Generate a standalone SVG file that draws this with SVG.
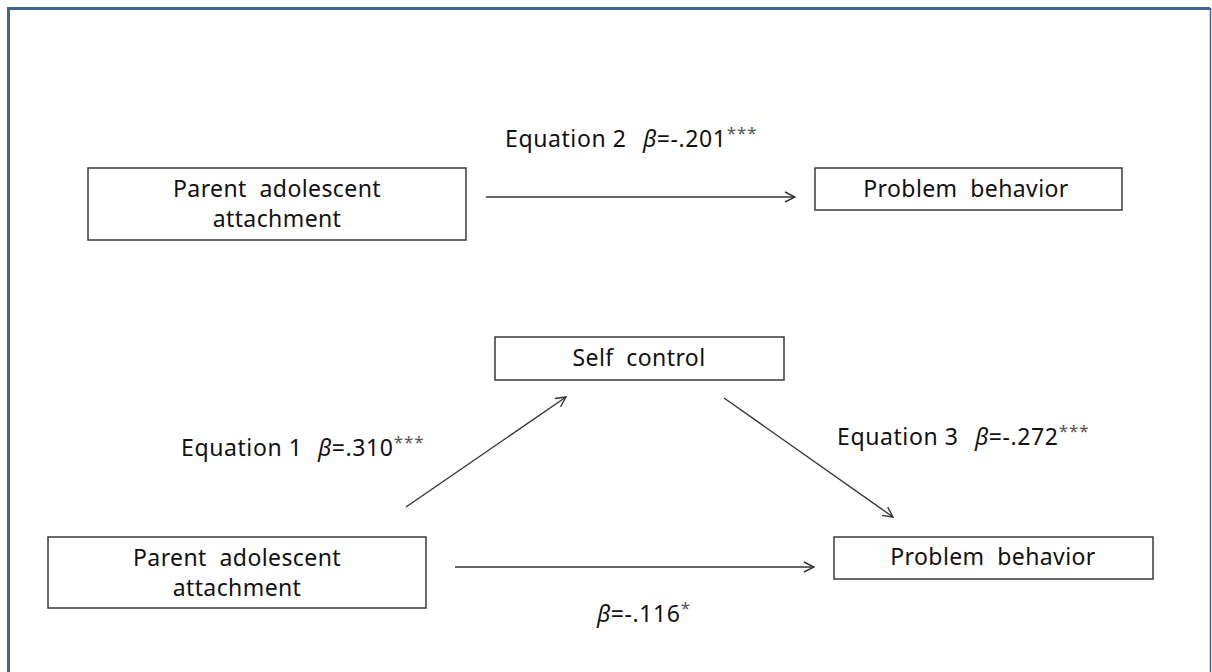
<svg xmlns="http://www.w3.org/2000/svg" width="1212" height="672" viewBox="0 0 1212 672">
<style>
.frame{fill:none;stroke:#3f6590}
.node rect{fill:#fff;stroke:#3a3a3a;stroke-width:1.5}
text{font-family:"Noto Sans","Open Sans",sans-serif;font-size:23px;fill:#111;text-anchor:middle;white-space:pre}
.node text{letter-spacing:0.4px}
.lbl{text-anchor:start;letter-spacing:0.6px}
.b{font-style:italic}
.s{font-size:17px;fill:#555;letter-spacing:1px}
.conn line{stroke:#333;stroke-width:1.4;marker-end:url(#ah)}
</style>
<defs>
<marker id="ah" viewBox="0 0 12 12" refX="11" refY="6" markerWidth="12" markerHeight="12" markerUnits="userSpaceOnUse" orient="auto">
<path d="M1,1 L11,6 L1,11" fill="none" stroke="#333" stroke-width="1.4"/>
</marker>
</defs>
<rect width="1212" height="672" fill="#fff"/>
<path class="frame" d="M8.5,680 V8.5 H1210" stroke-width="3"/>
<path class="frame" d="M1210.5,8 V680" stroke-width="1.5"/>

<g id="n_pa_top" class="node">
<rect x="88" y="168" width="378" height="72"/>
<text x="277" y="197" xml:space="preserve">Parent  adolescent</text>
<text x="277" y="227">attachment</text>
</g>
<g id="n_pb_top" class="node">
<rect x="815" y="168" width="307" height="42"/>
<text x="966" y="197" xml:space="preserve">Problem  behavior</text>
</g>
<g id="n_sc" class="node">
<rect x="495" y="337" width="289" height="43"/>
<text x="639" y="366" xml:space="preserve">Self  control</text>
</g>
<g id="n_pa_bot" class="node">
<rect x="48" y="537" width="378" height="71"/>
<text x="237" y="566" xml:space="preserve">Parent  adolescent</text>
<text x="237" y="596">attachment</text>
</g>
<g id="n_pb_bot" class="node">
<rect x="834" y="537" width="319" height="42"/>
<text x="993" y="565" xml:space="preserve">Problem  behavior</text>
</g>

<g id="connectors" class="conn">
<line x1="486" y1="197" x2="795" y2="197"/>
<line x1="406" y1="507" x2="566" y2="397"/>
<line x1="724" y1="398" x2="893" y2="517"/>
<line x1="455" y1="567" x2="814" y2="567"/>
</g>

<g id="labels">
<text class="lbl" x="505" y="147">Equation 2</text>
<text class="lbl" x="643" y="147"><tspan class="b">β</tspan>=-.201<tspan class="s" dy="-8">***</tspan></text>
<text class="lbl" x="181" y="456">Equation 1</text>
<text class="lbl" x="318" y="456"><tspan class="b">β</tspan>=.310<tspan class="s" dy="-8">***</tspan></text>
<text class="lbl" x="837" y="445">Equation 3</text>
<text class="lbl" x="975" y="445"><tspan class="b">β</tspan>=-.272<tspan class="s" dy="-8">***</tspan></text>
<text class="lbl" x="597" y="622"><tspan class="b">β</tspan>=-.116<tspan class="s" dy="-8">*</tspan></text>
</g>
</svg>
